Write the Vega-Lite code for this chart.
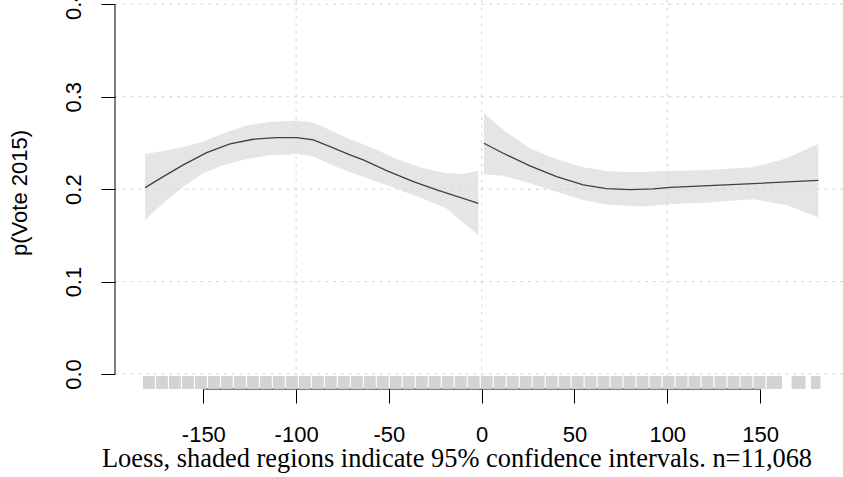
{
  "$schema": "https://vega.github.io/schema/vega-lite/v6.json",
  "width": 728,
  "height": 389,
  "autosize": {"type": "none"},
  "padding": {"left": 115, "top": 0, "right": 0, "bottom": 88},
  "background": "white",
  "config": {"view": {"stroke": null}, "font": "Liberation Sans"},
  "datasets": {
    "band": [
      {"side": "L", "x": -181.4, "lo": 0.1667, "hi": 0.2381},
      {"side": "L", "x": -171.6, "lo": 0.1847, "hi": 0.2412},
      {"side": "L", "x": -160.8, "lo": 0.2027, "hi": 0.2455},
      {"side": "L", "x": -150.0, "lo": 0.2172, "hi": 0.2515},
      {"side": "L", "x": -139.2, "lo": 0.2262, "hi": 0.2605},
      {"side": "L", "x": -126.6, "lo": 0.2327, "hi": 0.2688},
      {"side": "L", "x": -114.1, "lo": 0.2367, "hi": 0.2727},
      {"side": "L", "x": -99.7, "lo": 0.2381, "hi": 0.2742},
      {"side": "L", "x": -90.7, "lo": 0.2352, "hi": 0.2720},
      {"side": "L", "x": -81.7, "lo": 0.2270, "hi": 0.2641},
      {"side": "L", "x": -71.0, "lo": 0.2183, "hi": 0.2540},
      {"side": "L", "x": -60.2, "lo": 0.2110, "hi": 0.2460},
      {"side": "L", "x": -45.8, "lo": 0.2005, "hi": 0.2327},
      {"side": "L", "x": -31.5, "lo": 0.1895, "hi": 0.2226},
      {"side": "L", "x": -18.9, "lo": 0.1790, "hi": 0.2172},
      {"side": "L", "x": -9.9, "lo": 0.1637, "hi": 0.2165},
      {"side": "L", "x": -1.8, "lo": 0.1504, "hi": 0.2200},
      {"side": "R", "x": 1.2, "lo": 0.2161, "hi": 0.2821},
      {"side": "R", "x": 11.6, "lo": 0.2146, "hi": 0.2641},
      {"side": "R", "x": 26.0, "lo": 0.2064, "hi": 0.2443},
      {"side": "R", "x": 40.4, "lo": 0.1973, "hi": 0.2323},
      {"side": "R", "x": 54.7, "lo": 0.1883, "hi": 0.2237},
      {"side": "R", "x": 69.1, "lo": 0.1829, "hi": 0.2192},
      {"side": "R", "x": 87.1, "lo": 0.1811, "hi": 0.2186},
      {"side": "R", "x": 101.5, "lo": 0.1840, "hi": 0.2198},
      {"side": "R", "x": 119.4, "lo": 0.1854, "hi": 0.2205},
      {"side": "R", "x": 146.3, "lo": 0.1891, "hi": 0.2237},
      {"side": "R", "x": 164.3, "lo": 0.1829, "hi": 0.2334},
      {"side": "R", "x": 181.4, "lo": 0.1696, "hi": 0.2489}
    ],
    "fit": [
      {"side": "L", "x": -181.4, "y": 0.2016},
      {"side": "L", "x": -171.6, "y": 0.2135},
      {"side": "L", "x": -160.8, "y": 0.2262},
      {"side": "L", "x": -148.2, "y": 0.2395},
      {"side": "L", "x": -135.6, "y": 0.2489},
      {"side": "L", "x": -123.1, "y": 0.2540},
      {"side": "L", "x": -110.5, "y": 0.2557},
      {"side": "L", "x": -99.7, "y": 0.2557},
      {"side": "L", "x": -90.7, "y": 0.2532},
      {"side": "L", "x": -81.7, "y": 0.2460},
      {"side": "L", "x": -71.0, "y": 0.2370},
      {"side": "L", "x": -63.8, "y": 0.2316},
      {"side": "L", "x": -51.2, "y": 0.2200},
      {"side": "L", "x": -36.8, "y": 0.2081},
      {"side": "L", "x": -24.2, "y": 0.1991},
      {"side": "L", "x": -11.7, "y": 0.1912},
      {"side": "L", "x": -1.8, "y": 0.1847},
      {"side": "R", "x": 1.2, "y": 0.2497},
      {"side": "R", "x": 11.6, "y": 0.2388},
      {"side": "R", "x": 26.0, "y": 0.2251},
      {"side": "R", "x": 40.4, "y": 0.2135},
      {"side": "R", "x": 54.7, "y": 0.2045},
      {"side": "R", "x": 67.3, "y": 0.2006},
      {"side": "R", "x": 79.9, "y": 0.1995},
      {"side": "R", "x": 92.5, "y": 0.2002},
      {"side": "R", "x": 101.5, "y": 0.2020},
      {"side": "R", "x": 119.4, "y": 0.2035},
      {"side": "R", "x": 146.3, "y": 0.2060},
      {"side": "R", "x": 181.4, "y": 0.2096}
    ],
    "rug": [
      {"a": -182.5, "b": -176.1}, {"a": -175.5, "b": -169.1}, {"a": -168.5, "b": -162.1},
      {"a": -161.5, "b": -155.1}, {"a": -154.5, "b": -148.1}, {"a": -147.5, "b": -141.1},
      {"a": -140.5, "b": -134.1}, {"a": -133.5, "b": -127.1}, {"a": -126.5, "b": -120.1},
      {"a": -119.5, "b": -113.1}, {"a": -112.5, "b": -106.1}, {"a": -105.5, "b": -99.1},
      {"a": -98.5, "b": -92.1}, {"a": -91.5, "b": -85.1}, {"a": -84.5, "b": -78.1},
      {"a": -77.5, "b": -71.1}, {"a": -70.5, "b": -64.1}, {"a": -63.5, "b": -57.1},
      {"a": -56.5, "b": -50.1}, {"a": -49.5, "b": -43.1}, {"a": -42.5, "b": -36.1},
      {"a": -35.5, "b": -29.1}, {"a": -28.5, "b": -22.1}, {"a": -21.5, "b": -15.1},
      {"a": -14.5, "b": -8.1}, {"a": -7.5, "b": -1.1}, {"a": -0.5, "b": 5.9},
      {"a": 6.5, "b": 12.9}, {"a": 13.5, "b": 19.9}, {"a": 20.5, "b": 26.9},
      {"a": 27.5, "b": 33.9}, {"a": 34.5, "b": 40.9}, {"a": 41.5, "b": 47.9},
      {"a": 48.5, "b": 54.9}, {"a": 55.5, "b": 61.9}, {"a": 62.5, "b": 68.9},
      {"a": 69.5, "b": 75.9}, {"a": 76.5, "b": 82.9}, {"a": 83.5, "b": 89.9},
      {"a": 90.5, "b": 96.9}, {"a": 97.5, "b": 103.9}, {"a": 104.5, "b": 110.9},
      {"a": 111.5, "b": 117.9}, {"a": 118.5, "b": 124.9}, {"a": 125.5, "b": 131.9},
      {"a": 132.5, "b": 138.9}, {"a": 139.5, "b": 145.9}, {"a": 146.5, "b": 152.9},
      {"a": 153.5, "b": 161.8}, {"a": 167.0, "b": 174.5}, {"a": 177.4, "b": 182.5}
    ],
    "gridx": [{"g": -100}, {"g": 0}, {"g": 100}],
    "gridy": [{"g": 0}, {"g": 0.1}, {"g": 0.2}, {"g": 0.3}, {"g": 0.4}],
    "one": [{"k": 1}]
  },
  "layer": [
    {
      "data": {"name": "band"},
      "mark": {"type": "area", "color": "#e5e5e5", "opacity": 1},
      "encoding": {
        "x": {
          "field": "x", "type": "quantitative",
          "scale": {"domain": [-197.6, 194.7], "nice": false, "zero": false},
          "axis": {
            "values": [-150, -100, -50, 0, 50, 100, 150],
            "labelExpr": "datum.value < 0 ? '-' + abs(datum.value) : '' + datum.value",
            "domain": false, "grid": false,
            "ticks": true, "tickSize": 14, "tickColor": "black", "tickWidth": 1,
            "labelFont": "Liberation Sans", "labelFontSize": 22, "labelColor": "black",
            "labelBaseline": "alphabetic", "labelPadding": 38, "labelFlush": false, "labelOverlap": false,
            "title": "Loess, shaded regions indicate 95% confidence intervals. n=11,068",
            "titleFont": "Liberation Serif", "titleFontSize": 26.4, "titleFontWeight": "normal", "titleColor": "black",
            "titleX": 341.5, "titleY": 77, "titleAlign": "center", "titleBaseline": "alphabetic"
          }
        },
        "y": {
          "field": "lo", "type": "quantitative",
          "scale": {"domain": [-0.01623, 0.40465], "nice": false, "zero": false},
          "axis": {
            "values": [0, 0.1, 0.2, 0.3, 0.4], "format": ".1f",
            "domain": false, "grid": false,
            "ticks": true, "tickSize": 14, "tickColor": "black", "tickWidth": 1,
            "labelFont": "Liberation Sans", "labelFontSize": 22, "labelColor": "black",
            "labelAngle": 270, "labelAlign": "center", "labelBaseline": "alphabetic", "labelPadding": 21,
            "labelFlush": false, "labelOverlap": false,
            "title": "p(Vote 2015)",
            "titleFont": "Liberation Sans", "titleFontSize": 22, "titleFontWeight": "normal", "titleColor": "black",
            "titleAngle": 270, "titleX": -88.5, "titleY": 192.5, "titleAlign": "center", "titleBaseline": "alphabetic"
          }
        },
        "y2": {"field": "hi"},
        "detail": {"field": "side", "type": "nominal"}
      }
    },
    {
      "data": {"name": "gridx"},
      "mark": {"type": "rule", "color": "#d3d3d3", "strokeDash": [3, 4.8], "strokeWidth": 1},
      "encoding": {
        "x": {"field": "g", "type": "quantitative"}
      }
    },
    {
      "data": {"name": "gridy"},
      "mark": {"type": "rule", "color": "#d3d3d3", "strokeDash": [3, 4.8], "strokeWidth": 1},
      "encoding": {
        "y": {"field": "g", "type": "quantitative"}
      }
    },
    {
      "data": {"name": "fit"},
      "mark": {"type": "line", "color": "#404040", "strokeWidth": 1.3},
      "encoding": {
        "x": {"field": "x", "type": "quantitative"},
        "y": {"field": "y", "type": "quantitative"},
        "detail": {"field": "side", "type": "nominal"}
      }
    },
    {
      "data": {"name": "one"},
      "mark": {"type": "rule", "color": "black", "strokeWidth": 1},
      "encoding": {
        "x": {"datum": -150, "type": "quantitative"},
        "x2": {"datum": 150},
        "y": {"datum": -0.01623, "type": "quantitative"}
      }
    },
    {
      "data": {"name": "one"},
      "mark": {"type": "rule", "color": "black", "strokeWidth": 1},
      "encoding": {
        "x": {"datum": -197.6, "type": "quantitative"},
        "y": {"datum": 0, "type": "quantitative"},
        "y2": {"datum": 0.4}
      }
    },
    {
      "data": {"name": "rug"},
      "mark": {"type": "rect", "color": "#d3d3d3"},
      "encoding": {
        "x": {"field": "a", "type": "quantitative"},
        "x2": {"field": "b"},
        "y": {"datum": -0.0022, "type": "quantitative"},
        "y2": {"datum": -0.0162}
      }
    }
  ]
}
